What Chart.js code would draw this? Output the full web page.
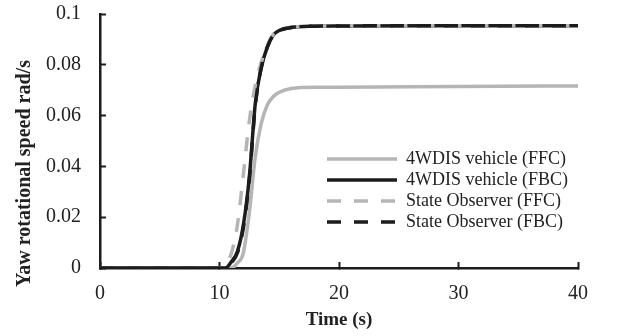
<!DOCTYPE html>
<html>
<head>
<meta charset="utf-8">
<script src="https://cdn.jsdelivr.net/npm/chart.js@4/dist/chart.umd.min.js"></script>
<style>
  html, body { margin: 0; padding: 0; background: #fff; }
  #wrap { width: 640px; height: 336px; }
</style>
</head>
<body>
<div id="wrap"><canvas id="chart" width="640" height="336"></canvas></div>
<script>
  // ============ 数据 ============
  const timeS = [0, 10, 10.5, 11, 11.5, 12, 12.5, 13, 13.5, 14, 14.5, 15, 16, 18, 20, 30, 40];

  const vehicleFfc  = [0, 0, 0, 0, 0.002, 0.006, 0.022, 0.044, 0.057, 0.0642, 0.0675, 0.0692, 0.0707, 0.0712, 0.0712, 0.0715, 0.0717];
  const vehicleFbc  = [0, 0, 0, 0.0025, 0.0065, 0.017, 0.036, 0.065, 0.079, 0.087, 0.0917, 0.0935, 0.0947, 0.0952, 0.0953, 0.0954, 0.0954];
  const observerFfc = [0, 0, 0.001, 0.006, 0.017, 0.037, 0.058, 0.072, 0.081, 0.0875, 0.092, 0.0937, 0.0948, 0.0952, 0.0953, 0.0954, 0.0954];
  const observerFbc = [0, 0, 0, 0.002, 0.006, 0.016, 0.035, 0.064, 0.079, 0.087, 0.0917, 0.0935, 0.0947, 0.0952, 0.0953, 0.0954, 0.0954];

  const seriesLabels = ['4WDIS vehicle (FFC)', '4WDIS vehicle (FBC)', 'State Observer (FFC)', 'State Observer (FBC)'];

  const xTickValues = [0, 10, 20, 30, 40];
  const xTickLabels = ['0', '10', '20', '30', '40'];
  const yTickValues = [0, 0.02, 0.04, 0.06, 0.08, 0.1];
  const yTickLabels = ['0', '0.02', '0.04', '0.06', '0.08', '0.1'];

  // ============ 样式 ============
  const SERIF = "'Liberation Serif', 'Times New Roman', serif";
  const INK = '#1c1c1c';
  const GREY = '#b5b5b5';
  const DASH = [14, 13];

  function toPoints(values) {
    return values.map(function (v, i) { return { x: timeS[i], y: v }; });
  }

  function lineSet(label, values, color, dash, order) {
    return {
      label: label,
      data: toPoints(values),
      borderColor: color,
      backgroundColor: color,
      borderWidth: 3.5,
      borderDash: dash,
      borderCapStyle: 'butt',
      pointRadius: 0,
      fill: false,
      cubicInterpolationMode: 'monotone',
      order: order,
    };
  }

  /** 图例项沿用数据集的线型（虚线） */
  function legendItems(chart) {
    const ds = chart.data.datasets;
    return ds.map(function (d, i) {
      return {
        text: d.label,
        datasetIndex: i,
        fillStyle: d.borderColor,
        strokeStyle: d.borderColor,
        lineWidth: d.borderWidth,
        lineDash: d.borderDash,
        lineCap: 'butt',
        pointStyle: 'line',
        hidden: false,
        fontColor: '#222',
      };
    });
  }

  /** 图例放到绘图区内部右侧 */
  const legendSpot = {
    id: 'legendSpot',
    afterLayout: function (chart) {
      const lg = chart.legend;
      if (!lg) return;
      lg.left = 324;
      lg.top = 147;
      lg.right = lg.left + lg.width;
      lg.bottom = lg.top + 200;
    },
  };

  new Chart(document.querySelector('#chart'), {
    type: 'line',
    data: {
      datasets: [
        lineSet(seriesLabels[0], vehicleFfc, GREY, [], 4),
        lineSet(seriesLabels[1], vehicleFbc, INK, [], 3),
        lineSet(seriesLabels[2], observerFfc, GREY, DASH, 2),
        lineSet(seriesLabels[3], observerFbc, INK, DASH, 1),
      ],
    },
    plugins: [legendSpot],
    options: {
      responsive: false,
      animation: false,
      devicePixelRatio: 1,
      layout: { padding: { top: 14, right: 62, bottom: 0, left: 0 } },
      plugins: {
        tooltip: { enabled: false },
        legend: {
          position: 'chartArea',
          align: 'start',
          labels: {
            generateLabels: legendItems,
            usePointStyle: true,
            pointStyle: 'line',
            pointStyleWidth: 70,
            padding: 3,
            color: '#222',
            font: { family: SERIF, size: 18 },
          },
        },
      },
      scales: {
        x: {
          type: 'linear',
          position: 'bottom',
          min: 0,
          max: 40,
          afterBuildTicks: function (s) {
            s.ticks = xTickValues.map(function (v) { return { value: v }; });
          },
          afterFit: function (s) {
            s.height = 68;
            s.paddingLeft = 6;
            s.paddingRight = 12;
          },
          ticks: {
            autoSkip: false,
            maxRotation: 0,
            padding: 20,
            color: '#222',
            font: { family: SERIF, size: 20 },
            callback: function (v, i) { return xTickLabels[i]; },
          },
          grid: { drawOnChartArea: false, drawTicks: true, tickLength: -6, tickWidth: 2, tickColor: INK },
          border: { display: true, color: INK, width: 2.5 },
          title: {
            display: true,
            text: 'Time (s)',
            color: '#222',
            font: { family: SERIF, size: 19, weight: 'bold' },
            padding: { top: 0, bottom: 5 },
          },
        },
        y: {
          min: 0,
          max: 0.1,
          afterBuildTicks: function (s) {
            s.ticks = yTickValues.map(function (v) { return { value: v }; });
          },
          afterFit: function (s) {
            s.width = 100;
            // 刻度内向时 padding 过大会把绘图区往下推，这里只保留半个字高
            s.paddingTop = 12;
            s.paddingBottom = 12;
          },
          ticks: {
            autoSkip: false,
            padding: 25,
            color: '#222',
            font: { family: SERIF, size: 20 },
            callback: function (v, i) { return yTickLabels[i]; },
          },
          grid: { drawOnChartArea: false, drawTicks: true, tickLength: -6, tickWidth: 2, tickColor: INK },
          border: { display: true, color: INK, width: 2.5 },
          title: {
            display: true,
            // 末尾空格让标题整体下移，与原图位置对齐
            text: 'Yaw rotational speed rad/s             ',
            color: '#222',
            font: { family: SERIF, size: 20, weight: 'bold' },
            padding: { top: 13, bottom: 0 },
          },
        },
      },
    },
  });
</script>
</body>
</html>
